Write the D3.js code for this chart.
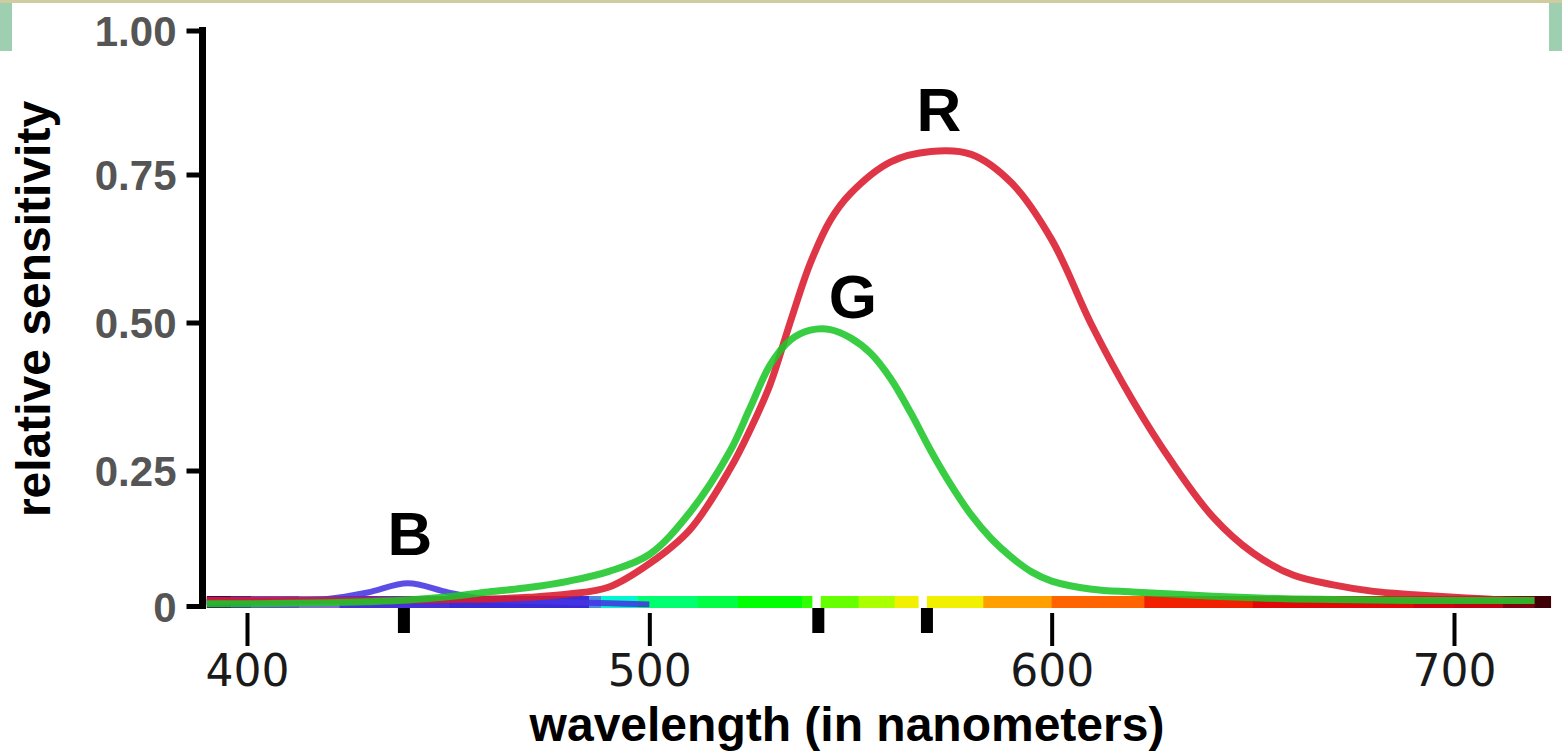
<!DOCTYPE html>
<html>
<head>
<meta charset="utf-8">
<script src="https://cdn.jsdelivr.net/npm/d3@7"></script>
<style>
body { margin: 0; background: #fff; }
svg { display: block; }
</style>
</head>
<body>
<svg id="mainsvg" width="1562" height="755"></svg>
<script>
// red cone: wavelength (nm) and relative sensitivity
var redWaves = [390,400,410,420,430,440,450,460,470,480,490,500,510,520,525,530,535,540,545,550,560,570,580,590,600,610,620,630,640,650,660,670,680,690,700,710,720];
var redVals  = [0.010,0.010,0.010,0.010,0.010,0.011,0.012,0.013,0.016,0.022,0.035,0.078,0.140,0.252,0.318,0.395,0.500,0.600,0.673,0.718,0.772,0.790,0.785,0.736,0.640,0.495,0.370,0.263,0.165,0.098,0.057,0.039,0.027,0.021,0.016,0.012,0.010];
// green cone
var greenWaves = [390,400,410,420,430,440,450,460,470,480,490,500,510,520,525,530,535,540,545,550,555,560,565,570,575,580,585,590,595,600,610,620,630,640,650,660,670,680,690,700,710,720];
var greenVals  = [0.004,0.004,0.005,0.006,0.008,0.011,0.017,0.026,0.034,0.046,0.064,0.095,0.172,0.282,0.355,0.428,0.470,0.487,0.488,0.474,0.448,0.405,0.347,0.283,0.223,0.168,0.124,0.090,0.063,0.046,0.031,0.026,0.022,0.018,0.015,0.013,0.012,0.011,0.010,0.010,0.010,0.010];
// blue cone only lives at the short end
var blueWaves = [390,400,410,420,430,440,450,460,470,480,490,500];
var blueVals  = [0.008,0.009,0.010,0.013,0.025,0.042,0.025,0.012,0.009,0.007,0.005,0.003];

var yTicks = [0, 0.25, 0.5, 0.75, 1];
var xTicks = [400, 500, 600, 700];
var peakTicks = [439, 542, 569];

// [from nm, to nm, colour] of the spectrum strip
var bandFrom = [390,396,401,413,423,450,485,488,497,512,522,538,542.6,552,561,569,583,600,623,650,690,700,712,720];
var bandTo   = [396,401,413,423,450,485,488,497,512,522,538,540.4,552,561,566.8,583,600,623,650,690,700,712,720,724];
var bandCol  = ["#3c0c5c","#4a249a","#6a48cc","#8468dc","#4830d8","#3a2ad8","#4a8ae0","#00f8d0","#00ff70","#00ff44","#00ff00","#30ff00","#66ff00","#aaff00","#f0f000","#f0f000","#ffa000","#ff6400","#f02000","#e00808","#d00010","#c00012","#800010","#400008"];

var labelText = ["R", "G", "B"];
var labelWave = [572, 550.6, 440.5];
var labelVal  = [0.826, 0.508, 0.094];

var svg = d3.select('#mainsvg');

// page decoration strips
svg.append('rect').attr('x', 0).attr('y', 0).attr('width', 1562).attr('height', 3).attr('fill', '#cfcca0');
svg.append('rect').attr('x', 0).attr('y', 3).attr('width', 12).attr('height', 48).attr('fill', '#9ecfb0');
svg.append('rect').attr('x', 1549).attr('y', 3).attr('width', 13).attr('height', 48).attr('fill', '#9ecfb0');

var x = d3.scaleLinear().domain([400, 700]).range([247, 1454]);
// the hand drawn axis is not quite even, so the scale follows the tick marks
var y = d3.scaleLinear().domain([0, 0.25, 0.5, 0.75, 1]).range([606, 470.5, 322.5, 174.5, 30.5]);

// spectrum strip
var bands = bandFrom.map(function(d, i) { return {a: d, b: bandTo[i], c: bandCol[i]}; });
svg.append('g').selectAll('rect')
	.data(bands)
	.enter()
	.append('rect')
	.attr('x', function(d) { return x(d.a); })
	.attr('width', function(d) { return x(d.b) - x(d.a) + 0.5; })
	.attr('y', 596)
	.attr('height', 12)
	.attr('fill', function(d) { return d.c; });

// y axis
var yAxis = d3.axisLeft(y).tickValues(yTicks).tickSize(16).tickPadding(10).tickSizeOuter(0)
	.tickFormat(function(d) { return d === 0 ? '0' : d3.format('.2f')(d); });
var gy = svg.append('g').attr('transform', 'translate(202.5,0)').call(yAxis);
gy.select('.domain').attr('stroke', '#000').attr('stroke-width', 7).attr('d', 'M0,609V27');
gy.selectAll('.tick line').attr('stroke', '#000').attr('stroke-width', 5);
gy.selectAll('.tick text')
	.attr('font-family', '"Liberation Sans", Arial, sans-serif')
	.attr('font-weight', 'bold')
	.attr('font-size', 42)
	.attr('fill', '#555')
	.attr('dy', '0.36em');

// x axis (no domain line, the strip stands in for it)
var xAxis = d3.axisBottom(x).tickValues(xTicks).tickSize(33).tickPadding(9).tickSizeOuter(0);
var gx = svg.append('g').attr('transform', 'translate(0,613)').call(xAxis);
gx.select('.domain').remove();
gx.selectAll('.tick line').attr('stroke', '#000').attr('stroke-width', 4);
gx.selectAll('.tick text')
	.attr('font-family', '"DejaVu Sans", Verdana, sans-serif')
	.attr('font-size', 44)
	.attr('fill', '#1a1a1a');

// thick marks under the peaks
svg.append('g').selectAll('rect')
	.data(peakTicks)
	.enter()
	.append('rect')
	.attr('x', function(d) { return x(d) - 6; })
	.attr('y', 608)
	.attr('width', 12)
	.attr('height', 25)
	.attr('fill', '#000');

// curves
var line = d3.line()
	.x(function(d) { return x(d[0]); })
	.y(function(d) { return y(d[1]); })
	.curve(d3.curveCatmullRom.alpha(0.5));

function pairs(ws, vs) {
	return ws.map(function(w, i) { return [w, vs[i]]; });
}

var curves = [
	{pts: pairs(blueWaves, blueVals), col: '#4634e0', w: 6},
	{pts: pairs(redWaves, redVals), col: '#da1a2c', w: 7},
	{pts: pairs(greenWaves, greenVals), col: '#1ec62a', w: 7}
];
svg.append('g').selectAll('path')
	.data(curves)
	.enter()
	.append('path')
	.attr('d', function(d) { return line(d.pts); })
	.attr('fill', 'none')
	.attr('stroke', function(d) { return d.col; })
	.attr('stroke-width', function(d) { return d.w; })
	.attr('stroke-opacity', 0.88)
	.attr('stroke-linejoin', 'round');

// R G B letters
svg.append('g').selectAll('text')
	.data(labelText)
	.enter()
	.append('text')
	.attr('x', function(d, i) { return x(labelWave[i]); })
	.attr('y', function(d, i) { return y(labelVal[i]); })
	.attr('text-anchor', 'middle')
	.attr('font-family', '"Liberation Sans", Arial, sans-serif')
	.attr('font-weight', 'bold')
	.attr('font-size', 62)
	.attr('fill', '#000')
	.text(function(d) { return d; });

// axis titles
svg.append('text')
	.attr('x', 847)
	.attr('y', 741)
	.attr('text-anchor', 'middle')
	.attr('font-family', '"Liberation Sans", Arial, sans-serif')
	.attr('font-weight', 'bold')
	.attr('font-size', 48)
	.attr('fill', '#000')
	.text('wavelength (in nanometers)');

svg.append('text')
	.attr('transform', 'translate(50,309) rotate(-90)')
	.attr('text-anchor', 'middle')
	.attr('font-family', '"Liberation Sans", Arial, sans-serif')
	.attr('font-weight', 'bold')
	.attr('font-size', 48)
	.attr('fill', '#000')
	.text('relative sensitivity');
</script>
</body>
</html>
